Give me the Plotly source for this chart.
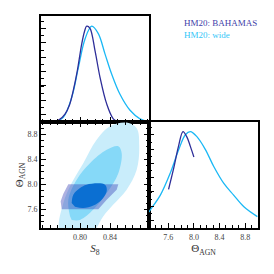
import plotly.graph_objects as go

# ---- data ----
# 1D posterior of S8 (normalised height)
s8_bahamas_x = [0.764, 0.772, 0.780, 0.786, 0.791, 0.7964, 0.8022, 0.8060, 0.8089, 0.8133, 0.8200, 0.8267, 0.8356, 0.8444, 0.851]
s8_bahamas_y = [0.0, 0.02, 0.075, 0.16, 0.295, 0.48, 0.73, 0.85, 0.90, 0.88, 0.67, 0.42, 0.17, 0.03, 0.0]
s8_wide_x = [0.7667, 0.7778, 0.7889, 0.7978, 0.8067, 0.8156, 0.8244, 0.8333, 0.8422, 0.8533, 0.8667, 0.880, 0.892]
s8_wide_y = [0.0, 0.044, 0.23, 0.51, 0.78, 0.90, 0.83, 0.64, 0.45, 0.26, 0.11, 0.03, 0.004]

# 1D posterior of Theta_AGN
th_bahamas_x = [7.605, 7.68, 7.76, 7.83, 7.89, 7.945, 8.0]
th_bahamas_y = [0.365, 0.55, 0.77, 0.91, 0.86, 0.77, 0.67]
th_wide_x = [7.30, 7.32, 7.477, 7.633, 7.764, 7.867, 7.945, 8.05, 8.18, 8.31, 8.467, 8.62, 8.78, 8.99]
th_wide_y = [0.15, 0.17, 0.31, 0.52, 0.74, 0.88, 0.91, 0.86, 0.74, 0.58, 0.42, 0.31, 0.20, 0.107]

# 2D contours (S8, Theta_AGN)
wide95_s8 = [0.7733, 0.7778, 0.7889, 0.8044, 0.8222, 0.840, 0.8622, 0.8756, 0.879, 0.8756, 0.8622, 0.8444, 0.8311, 0.8178, 0.800, 0.7733]
wide95_th = [7.25, 7.70, 8.02, 8.34, 8.715, 8.93, 8.99, 8.90, 8.61, 8.235, 7.915, 7.675, 7.49, 7.25, 7.20, 7.25]
wide68_s8 = [0.7867, 0.7844, 0.7956, 0.8133, 0.8356, 0.8511, 0.8556, 0.8511, 0.8356, 0.8178, 0.800, 0.7889]
wide68_th = [7.49, 7.755, 8.075, 8.34, 8.555, 8.61, 8.50, 8.18, 7.86, 7.595, 7.43, 7.43]
bah95_s8 = [0.7844, 0.8511, 0.8489, 0.8356, 0.8244, 0.7756, 0.7742, 0.7778, 0.7844]
bah95_th = [8.0, 8.0, 7.915, 7.755, 7.60, 7.60, 7.73, 7.85, 8.0]
bah68_s8 = [0.7889, 0.7911, 0.800, 0.8089, 0.8333, 0.8356, 0.8289, 0.8178, 0.8044, 0.7933]
bah68_th = [7.70, 7.835, 7.94, 7.995, 7.995, 7.888, 7.755, 7.66, 7.62, 7.64]

s8_ticks = [0.80, 0.84]
th_ticks = [7.6, 8.0, 8.4, 8.8]
legend_labels = ["HM20: BAHAMAS", "HM20: wide"]

DARK = "#2e2e99"
LIGHT = "#1ab8f5"
FONT = "Liberation Serif"

fig = go.Figure()

# top-left: S8 1D
fig.add_trace(go.Scatter(x=s8_wide_x, y=s8_wide_y, mode="lines", line=dict(color=LIGHT, width=1.3, shape="spline"), xaxis="x", yaxis="y"))
fig.add_trace(go.Scatter(x=s8_bahamas_x, y=s8_bahamas_y, mode="lines", line=dict(color=DARK, width=1.3, shape="spline"), xaxis="x", yaxis="y"))

# bottom-left: 2D
fig.add_trace(go.Scatter(x=wide95_s8, y=wide95_th, mode="lines", fill="toself", fillcolor="#c9edfb", line=dict(width=0, shape="spline"), xaxis="x2", yaxis="y2"))
fig.add_trace(go.Scatter(x=wide68_s8, y=wide68_th, mode="lines", fill="toself", fillcolor="#86d9f8", line=dict(width=0, shape="spline"), xaxis="x2", yaxis="y2"))
fig.add_trace(go.Scatter(x=bah95_s8, y=bah95_th, mode="lines", fill="toself", fillcolor="rgba(50,60,180,0.40)", line=dict(width=0), xaxis="x2", yaxis="y2"))
fig.add_trace(go.Scatter(x=bah68_s8, y=bah68_th, mode="lines", fill="toself", fillcolor="#0b6fd2", line=dict(width=0, shape="spline"), xaxis="x2", yaxis="y2"))

# bottom-right: Theta 1D
fig.add_trace(go.Scatter(x=th_wide_x, y=th_wide_y, mode="lines", line=dict(color=LIGHT, width=1.3, shape="spline"), xaxis="x3", yaxis="y3"))
fig.add_trace(go.Scatter(x=th_bahamas_x, y=th_bahamas_y, mode="lines", line=dict(color=DARK, width=1.3, shape="spline"), xaxis="x3", yaxis="y3"))

X0, X1, X2 = 41/274, 149/274, 258/274
Y0, Y1, Y2 = 1-228/274, 1-122/274, 1-15.5/274

def ax(mirror):
    return dict(showline=True, linecolor="black", linewidth=2, mirror=mirror, ticks="inside",
                tickcolor="black", tickwidth=1, ticklen=5, showgrid=False, zeroline=False,
                tickfont=dict(family=FONT, size=8, color="#444"))

minor = lambda d: dict(ticks="inside", dtick=d, ticklen=3, tickcolor="black", tickwidth=1, showgrid=False)
title_font = dict(family=FONT, size=11, color="#333")

fig.update_layout(
    width=274, height=274, margin=dict(l=0, r=0, t=0, b=0),
    paper_bgcolor="white", plot_bgcolor="white", showlegend=False,
    xaxis=dict(domain=[X0, X1], anchor="y", range=[0.748, 0.892], tickvals=s8_ticks, showticklabels=False, minor=minor(0.01), **ax(True)),
    yaxis=dict(domain=[Y1, Y2], anchor="x", range=[0, 1.0], dtick=0.135, tick0=0.07, showticklabels=False, minor=minor(0.0675), **ax(True)),
    xaxis2=dict(domain=[X0, X1], anchor="y2", range=[0.748, 0.892], tickvals=s8_ticks, ticktext=["0.80", "0.84"], minor=minor(0.01),
                title=dict(text="<i>S</i><sub>8</sub>", font=title_font, standoff=4), **ax("ticks")),
    yaxis2=dict(domain=[Y0, Y1], anchor="x2", range=[7.3, 9.0], tickvals=th_ticks, ticktext=["7.6", "8.0", "8.4", "8.8"], minor=minor(0.1),
                title=dict(text="Θ<sub>AGN</sub>", font=title_font, standoff=2), **ax("ticks")),
    xaxis3=dict(domain=[X1, X2], anchor="y3", range=[7.3, 9.0], tickvals=th_ticks, ticktext=["7.6", "8.0", "8.4", "8.8"], minor=minor(0.1),
                title=dict(text="Θ<sub>AGN</sub>", font=title_font, standoff=4), **ax(True)),
    yaxis3=dict(domain=[Y0, Y1], anchor="x3", range=[0, 1.0], dtick=0.135, tick0=0.07, showticklabels=False, minor=minor(0.0675), **ax(True)),
    annotations=[
        dict(text=legend_labels[0], x=182/274, y=1-23/274, xref="paper", yref="paper", xanchor="left", yanchor="middle",
             showarrow=False, font=dict(family=FONT, size=9, color="#4040a8")),
        dict(text=legend_labels[1], x=182/274, y=1-34.5/274, xref="paper", yref="paper", xanchor="left", yanchor="middle",
             showarrow=False, font=dict(family=FONT, size=9, color="#33c6f8")),
    ],
)

fig.write_html("out.html", config={"displayModeBar": False}, post_script="document.body.style.margin='0';")
